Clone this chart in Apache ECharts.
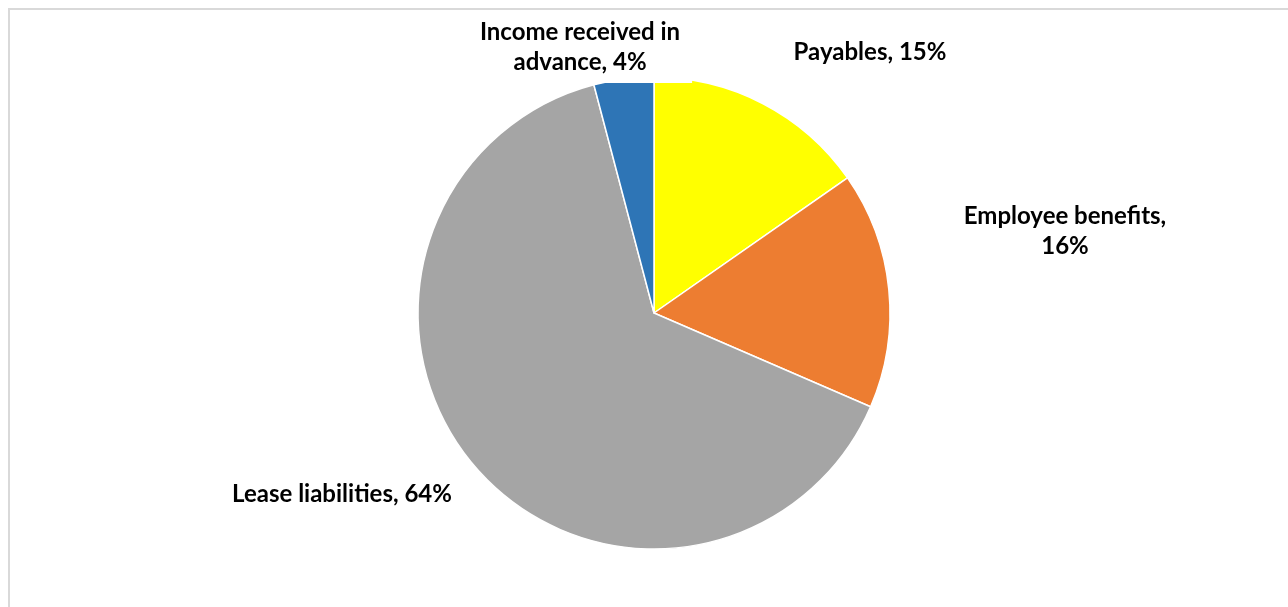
<!DOCTYPE html>
<html>
<head>
<meta charset="utf-8">
<script src="https://cdn.jsdelivr.net/npm/echarts@6/dist/echarts.min.js"></script>
<style>
html,body{margin:0;padding:0;background:#fff;}
#frame{position:absolute;left:8px;top:8px;width:1290px;height:610px;border-left:2px solid #d9d9d9;border-top:2px solid #d9d9d9;box-sizing:border-box;}
#chart{position:absolute;left:0;top:0;width:1288px;height:607px;}
</style>
</head>
<body>
<div id="frame"></div>
<div id="chart"></div>
<script>
const categories = ["Payables", "Employee benefits", "Lease liabilities", "Income received in advance"];
const values = [15.3, 16.2, 64.4, 4.1];
const colors = ["#FFFF00", "#ED7D31", "#A5A5A5", "#2E75B6"];
const labelTexts = ["Payables, 15%", "Employee benefits,\n16%", "Lease liabilities, 64%", "Income received in\nadvance, 4%"];

const labelPos = [
  {x: 870, y: 52},
  {x: 1065, y: 231},
  {x: 342, y: 494},
  {x: 582, y: 47}
];

const chart = echarts.init(document.getElementById('chart'), null, {renderer: 'canvas'});
const data = categories.map((c, i) => ({
  name: c,
  value: values[i],
  itemStyle: {color: colors[i]},
  label: i === 3 ? {backgroundColor: '#fff', padding: [8, 12, 4, 8]} : {}
}));
chart.setOption({
  animation: false,
  series: [{
    type: 'pie',
    center: [654, 313],
    radius: 236,
    startAngle: 90,
    clockwise: true,
    data: data,
    itemStyle: {borderColor: '#fff', borderWidth: 1.5},
    label: {
      show: true,
      formatter: p => labelTexts[p.dataIndex],
      fontFamily: 'Lato',
      fontWeight: 'bold',
      fontSize: 24,
      lineHeight: 30,
      color: '#000',
      align: 'center'
    },
    labelLine: {show: false},
    labelLayout: p => ({x: labelPos[p.dataIndex].x, y: labelPos[p.dataIndex].y, align: 'center', verticalAlign: 'middle'})
  }]
});
</script>
</body>
</html>
